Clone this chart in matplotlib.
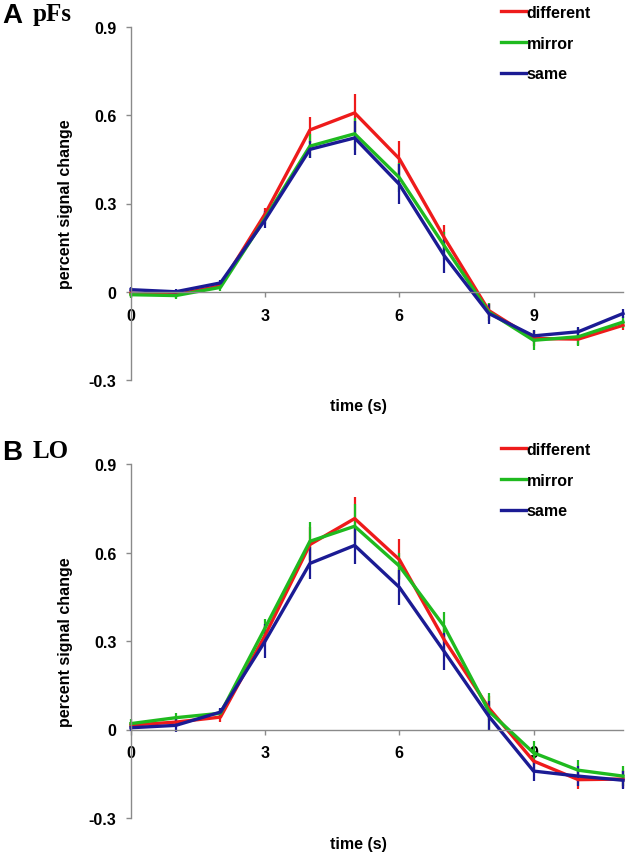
import matplotlib
matplotlib.use("Agg")
import matplotlib.pyplot as plt
from matplotlib.lines import Line2D

plt.rcParams["font.family"] = ["Liberation Sans", "DejaVu Sans"]

TIME = [0, 1, 2, 3, 4, 5, 6, 7, 8, 9, 10, 11]
CONDS = ["different", "mirror", "same"]
COLORS = {"different": "#ee1b1b", "mirror": "#1fba1f", "same": "#1b1b94"}

# panel A: pFs
PFS_MEAN = {
    "different": [-0.005, -0.010, 0.020, 0.265, 0.550, 0.608, 0.452, 0.185, -0.064, -0.159, -0.161, -0.114],
    "mirror":    [-0.010, -0.013, 0.015, 0.250, 0.495, 0.537, 0.388, 0.157, -0.069, -0.165, -0.153, -0.103],
    "same":      [0.007, 0.000, 0.030, 0.245, 0.484, 0.523, 0.365, 0.123, -0.074, -0.150, -0.136, -0.074],
}
PFS_ERR = {
    "different": [0.010, 0.010, 0.012, 0.020, 0.045, 0.064, 0.060, 0.042, 0.025, 0.025, 0.020, 0.015],
    "mirror":    [0.010, 0.012, 0.012, 0.020, 0.040, 0.055, 0.050, 0.045, 0.030, 0.034, 0.030, 0.020],
    "same":      [0.008, 0.008, 0.010, 0.028, 0.028, 0.057, 0.068, 0.060, 0.034, 0.020, 0.015, 0.015],
}

# panel B: LO
LO_MEAN = {
    "different": [0.015, 0.025, 0.042, 0.320, 0.627, 0.715, 0.576, 0.305, 0.073, -0.107, -0.170, -0.168],
    "mirror":    [0.020, 0.040, 0.055, 0.345, 0.638, 0.689, 0.554, 0.350, 0.062, -0.079, -0.138, -0.158],
    "same":      [0.006, 0.014, 0.059, 0.300, 0.563, 0.624, 0.482, 0.265, 0.045, -0.141, -0.158, -0.172],
}
LO_ERR = {
    "different": [0.012, 0.015, 0.015, 0.030, 0.060, 0.072, 0.070, 0.050, 0.040, 0.030, 0.030, 0.030],
    "mirror":    [0.015, 0.017, 0.015, 0.030, 0.065, 0.074, 0.045, 0.050, 0.063, 0.040, 0.036, 0.034],
    "same":      [0.010, 0.024, 0.015, 0.057, 0.054, 0.064, 0.059, 0.062, 0.050, 0.034, 0.034, 0.030],
}

YTICKS = [-0.3, 0, 0.3, 0.6, 0.9]
YTICKLABELS = ["-0.3", "0", "0.3", "0.6", "0.9"]
XTICKS = [0, 3, 6, 9]

W, H = 626, 853
FS = 11.5
fig = plt.figure(figsize=(W / 100, H / 100), dpi=100)


def panel(rect, mean, err, letter, region, legend_y):
    ax = fig.add_axes(rect)
    for c in CONDS:
        ax.errorbar(TIME, mean[c], yerr=err[c], color=COLORS[c], lw=2.4,
                    elinewidth=1.6, capsize=0, clip_on=False)
    ax.set_xlim(0, 11)
    ax.set_ylim(-0.3, 0.9)
    for s in ("top", "right"):
        ax.spines[s].set_visible(False)
    ax.spines["bottom"].set_position(("data", 0))
    for s in ("left", "bottom"):
        ax.spines[s].set_color("#8a8a8a")
        ax.spines[s].set_linewidth(1.0)
    ax.set_yticks(YTICKS)
    ax.set_yticklabels(YTICKLABELS, fontsize=FS, fontweight="bold")
    ax.set_xticks(XTICKS)
    ax.set_xticklabels([str(t) for t in XTICKS], fontsize=FS, fontweight="bold")
    ax.tick_params(axis="both", direction="out", length=3.5, width=1, color="#8a8a8a")
    ax.tick_params(axis="y", pad=7)
    ax.tick_params(axis="x", pad=8)
    ax.set_ylabel("percent signal change", fontsize=FS, fontweight="bold")
    ax.yaxis.set_label_coords(-(131 - 73) / rect[2] / W, 0.5)
    top = rect[1] + rect[3]
    fig.text(358 / W, rect[1] - 26 / H, "time (s)", fontsize=FS, fontweight="bold",
             ha="center", va="center")
    fig.text(2 / W, top + 5 / H, letter, fontsize=20, fontweight="bold",
             ha="left", va="baseline")
    fig.text(33 / W, top + 7 / H, region, fontsize=18, fontweight="bold",
             family="Liberation Serif", ha="left", va="baseline")
    handles = [Line2D([], [], color=COLORS[c], lw=2.4) for c in CONDS]
    ax.legend(handles, CONDS, loc="upper left", bbox_to_anchor=(501 / W, legend_y),
              bbox_transform=fig.transFigure, frameon=False, handlelength=1.55,
              handletextpad=0.05, labelspacing=0.98, borderaxespad=0, borderpad=0,
              prop={"weight": "bold", "size": FS})
    return ax


panel([131 / W, 1 - 381 / H, 492 / W, 353 / H], PFS_MEAN, PFS_ERR, "A", "pFs", 1 - 6 / H)
panel([131 / W, 1 - 819 / H, 492 / W, 354 / H], LO_MEAN, LO_ERR, "B", "LO", 1 - 443 / H)

fig.savefig("out.png", dpi=100)
